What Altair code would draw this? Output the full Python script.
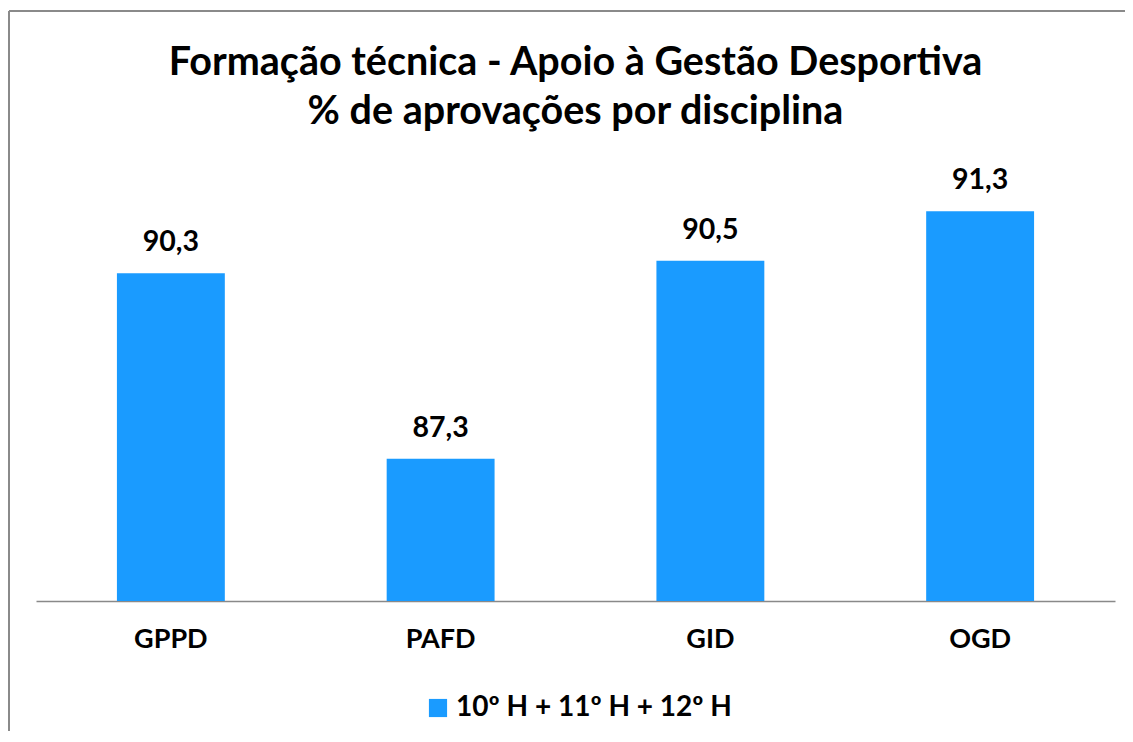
import altair as alt
import pandas as pd

categories = ["GPPD", "PAFD", "GID", "OGD"]
values = [90.3, 87.3, 90.5, 91.3]
series_name = "10º H + 11º H + 12º H"
title_lines = ["Formação técnica - Apoio à Gestão Desportiva", "% de aprovações por disciplina"]

df = pd.DataFrame({"cat": categories, "value": values, "series": [series_name] * len(categories)})

FONT = "Lato"
BLUE = "#1A9BFF"

base = alt.Chart(df)

x_enc = alt.X("cat:N", sort=categories, title=None,
              scale=alt.Scale(paddingInner=0.6, paddingOuter=0.3),
              axis=alt.Axis(labelAngle=0, labelFont=FONT, labelFontSize=27, labelFontWeight="bold",
                            labelColor="black", labelPadding=25, ticks=False,
                            domainColor="#898989", domainWidth=1.5, grid=False))
y_enc = alt.Y("value:Q", title=None, scale=alt.Scale(domain=[85, 92], nice=False, zero=False),
              axis=None)

bars = base.mark_bar(color=BLUE).encode(
    x=x_enc,
    y=y_enc,
    y2=alt.datum(85),
    color=alt.Color("series:N", scale=alt.Scale(domain=[series_name], range=[BLUE]),
                    legend=alt.Legend(title=None, orient="none", legendX=388, legendY=526,
                                      symbolType="square", symbolSize=330, symbolStrokeWidth=0,
                                      labelFont=FONT, labelFontSize=28, labelFontWeight="bold",
                                      labelColor="black", symbolOpacity=1, labelLimit=600)),
)

labels = base.transform_calculate(
    lbl="replace(format(datum.value, '.1f'), '.', ',')"
).mark_text(font=FONT, fontSize=28.5, fontWeight="bold", color="black",
            baseline="alphabetic", dy=-22).encode(
    x=alt.X("cat:N", sort=categories),
    y="value:Q",
    text="lbl:N",
)

frame_left = base.mark_rule(color="#8a8a8a", strokeWidth=2).encode(
    x=alt.value(-27), y=alt.value(-157), y2=alt.value(700))
frame_top = base.mark_rule(color="#8a8a8a", strokeWidth=2).encode(
    y=alt.value(-157), x=alt.value(-27), x2=alt.value(1200))

chart = alt.layer(bars, labels, frame_left, frame_top).properties(
    width=1079, height=433,
    autosize=alt.AutoSizeParams(type="none"),
    padding={"left": 28, "top": 160, "right": 10, "bottom": 130},
    title=alt.TitleParams(text=title_lines, font=FONT, fontSize=39.5, fontWeight="bold",
                          color="black", anchor="middle", frame="group", offset=-122, lineHeight=49),
).configure(background="white").configure_view(strokeWidth=0)

chart.save("out.html", embed_options={"renderer": "svg", "actions": False})
